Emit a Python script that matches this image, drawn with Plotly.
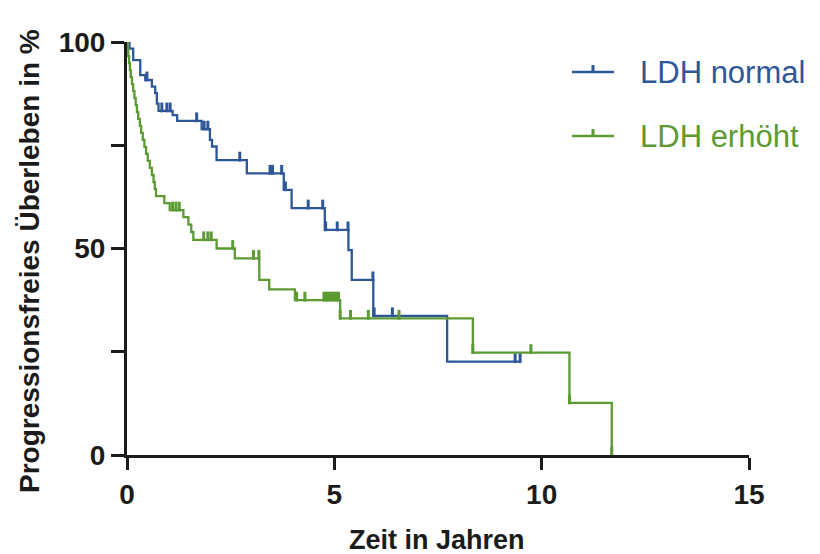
import numpy as np
import plotly.graph_objects as go

# Kaplan-Meier step data: time (years) at which survival drops, survival (%) after the drop
normal_t = [0.00, 0.06, 0.15, 0.32, 0.44, 0.60, 0.68, 0.72, 0.76, 1.10, 1.21, 1.80, 2.00,
            2.05, 2.16, 2.89, 3.78, 3.97, 4.77, 5.34, 5.42, 5.94, 7.72]
normal_s = [100.0, 98.4, 95.6, 92.0, 90.8, 89.2, 87.6, 85.1, 83.3, 82.3, 80.9, 78.9, 76.3,
            74.7, 71.4, 68.2, 64.2, 59.8, 54.5, 49.6, 42.4, 33.7, 22.6]
normal_end = 9.48
normal_censor = [0.48, 0.84, 0.96, 1.04, 1.68, 1.86, 1.95, 2.72, 3.45, 3.51, 3.73, 3.82,
                 4.37, 4.72, 4.79, 5.07, 5.33, 5.93, 5.96, 6.40, 9.36, 9.48]

high_t = [0.00, 0.01, 0.03, 0.05, 0.07, 0.09, 0.12, 0.15, 0.18, 0.21, 0.24, 0.27, 0.31,
          0.34, 0.38, 0.42, 0.46, 0.50, 0.55, 0.60, 0.64, 0.67, 0.70, 0.90, 1.03, 1.36,
          1.48, 1.55, 1.60, 2.16, 2.60, 3.19, 3.43, 4.05, 5.14, 8.34, 10.67, 11.69]
high_s = [100.0, 98.3, 96.6, 94.9, 93.2, 91.5, 89.8, 88.1, 86.4, 84.7, 83.0, 81.4, 79.7,
          78.0, 76.3, 74.6, 72.9, 71.2, 69.5, 67.8, 66.1, 64.4, 62.7, 61.0, 59.3, 57.6,
          55.8, 54.0, 52.1, 50.0, 47.6, 42.4, 40.1, 37.5, 33.1, 24.8, 12.6, 0.0]
high_end = 11.69
high_censor = [1.10, 1.18, 1.26, 1.85, 1.95, 2.03, 2.55, 3.05, 3.18, 4.09, 4.29,
               4.75, 4.81, 4.87, 4.93, 4.99, 5.05, 5.10, 5.14, 5.39, 5.82, 6.56,
               8.34, 9.74, 10.67, 11.69]

x_ticks = [0, 5, 10, 15]
y_ticks = [0, 25, 50, 75, 100]
y_ticktext = ["0", "", "50", "", "100"]

BLUE = "#2E5797"
GREEN = "#5C9A33"
AXIS = "#1b1b1b"
FONT = "Liberation Sans, Arial, sans-serif"

# plot-area geometry (pixels) used for margins
L, R, T, B = 127, 71, 42, 99
W, H = 820, 554
PW, PH = W - L - R, H - T - B


def step_value(times, surv, t):
    idx = np.searchsorted(np.asarray(times), t, side="right") - 1
    return np.asarray(surv)[idx]


fig = go.Figure()

for times, surv, end, cens, color, name in [
    (normal_t, normal_s, normal_end, normal_censor, BLUE, "LDH normal"),
    (high_t, high_s, high_end, high_censor, GREEN, "LDH erhöht"),
]:
    xs = list(times) + [end]
    ys = list(surv) + [surv[-1]]
    fig.add_trace(go.Scatter(
        x=xs, y=ys, mode="lines", line=dict(color=color, width=2.3, shape="hv"),
        name=name, showlegend=False, hoverinfo="skip"))
    cs = step_value(times, surv, np.asarray(cens))
    # censor ticks stand up from the curve
    fig.add_trace(go.Scatter(
        x=cens, y=cs + 0.85, mode="markers",
        marker=dict(symbol="line-ns", size=7, line=dict(color=color, width=3)),
        showlegend=False, hoverinfo="skip", cliponaxis=False))


def px_x(p):
    return (p - L) / PW


def px_y(p):
    return (H - B - p) / PH


# legend entries drawn as line + upward tick + coloured label
for label, color, ypix in [("LDH normal", BLUE, 72), ("LDH erhöht", GREEN, 136)]:
    fig.add_shape(type="line", xref="paper", yref="paper",
                  x0=px_x(572), x1=px_x(614), y0=px_y(ypix), y1=px_y(ypix),
                  line=dict(color=color, width=2.3))
    fig.add_shape(type="line", xref="paper", yref="paper",
                  x0=px_x(593), x1=px_x(593), y0=px_y(ypix), y1=px_y(ypix - 7),
                  line=dict(color=color, width=3))
    fig.add_annotation(xref="paper", yref="paper", x=px_x(638), y=px_y(ypix),
                       text=label, showarrow=False, xanchor="left", yanchor="middle",
                       font=dict(family=FONT, size=31, color=color))

fig.add_annotation(xref="paper", yref="paper", x=px_x(29), y=px_y(261),
                   text="<b>Progressionsfreies Überleben in %</b>", textangle=-90,
                   showarrow=False, xanchor="center", yanchor="middle",
                   font=dict(family=FONT, size=28, color=AXIS))
fig.add_annotation(xref="paper", yref="paper", x=px_x(437), y=px_y(540),
                   text="<b>Zeit in Jahren</b>", showarrow=False,
                   xanchor="center", yanchor="middle",
                   font=dict(family=FONT, size=27, color=AXIS))

fig.update_xaxes(range=[0, 15], tickvals=x_ticks, ticktext=[f"<b>{v}</b>" for v in x_ticks],
                 showline=True, linecolor=AXIS, linewidth=3, ticks="outside",
                 ticklen=12, tickwidth=3, tickcolor=AXIS, showgrid=False, zeroline=False,
                 tickfont=dict(family=FONT, size=28, color=AXIS))
fig.update_yaxes(range=[0, 100], tickvals=y_ticks, ticktext=[f"<b>{v}</b>" if v else "" for v in y_ticktext],
                 showline=True, linecolor=AXIS, linewidth=3, ticks="outside",
                 ticklen=13, tickwidth=3, tickcolor=AXIS, showgrid=False, zeroline=False,
                 tickfont=dict(family=FONT, size=28, color=AXIS))

fig.update_layout(width=W, height=H, margin=dict(l=L, r=R, t=T, b=B),
                  plot_bgcolor="white", paper_bgcolor="white", showlegend=False)

fig.write_html("out.html")
